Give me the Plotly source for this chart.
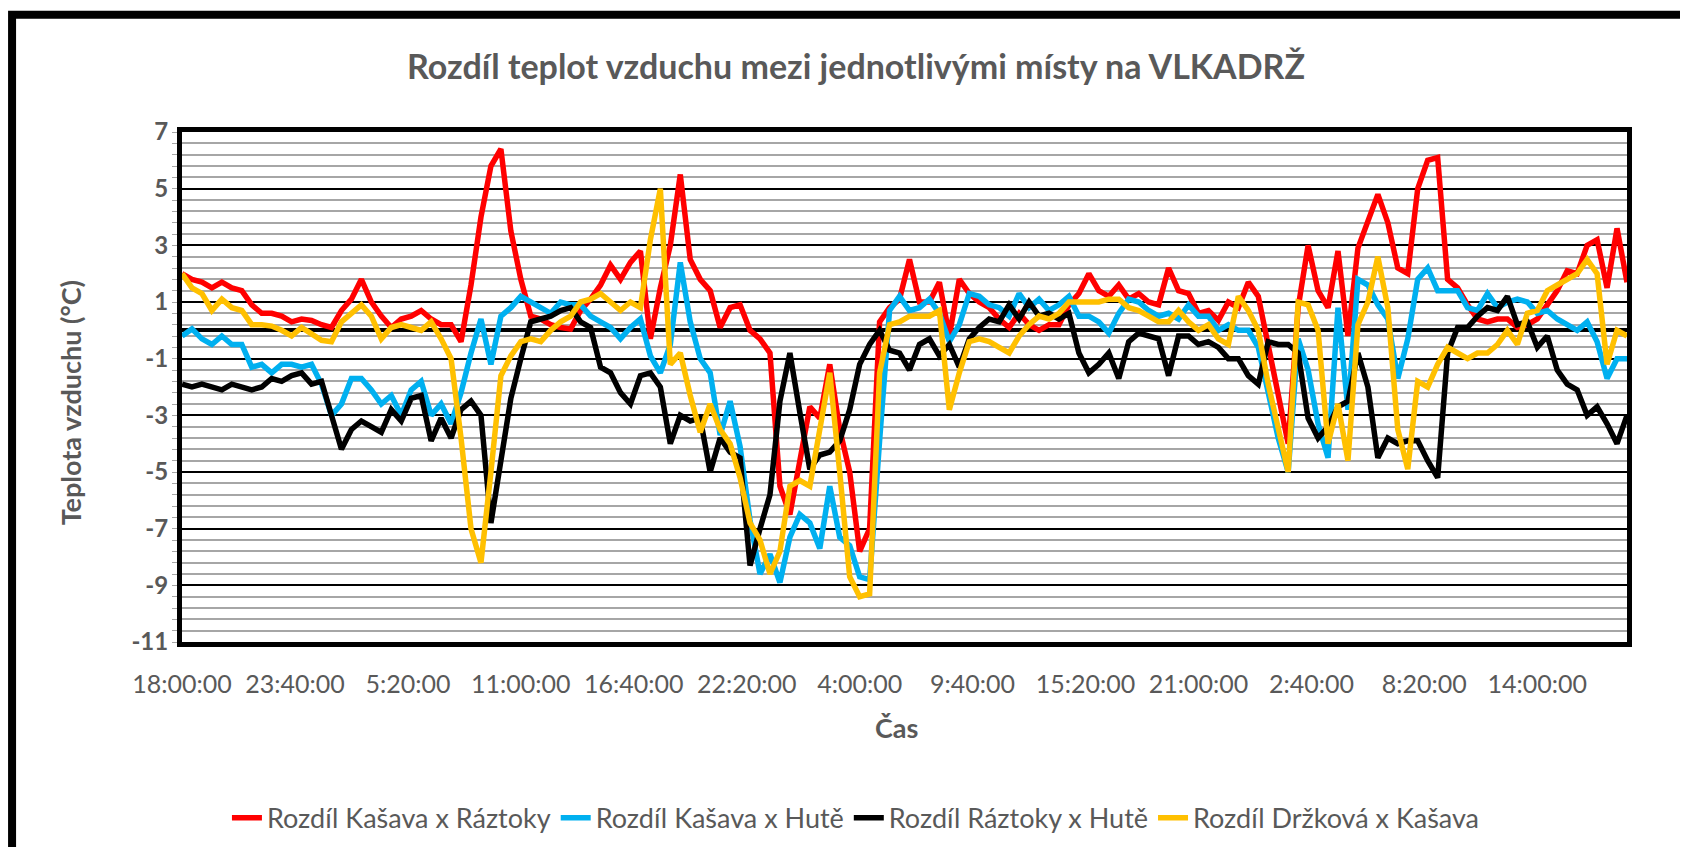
import pandas as pd
import plotly.graph_objects as go

# 30-minute samples starting at 18:00 on day one
start_time = "2021-06-01 18:00"
sample_step = "30min"

rozdil_kasava_raztoky = [
    2.0, 1.8, 1.7, 1.5, 1.7, 1.5, 1.4, 0.9, 0.6, 0.6,
    0.5, 0.3, 0.4, 0.35, 0.2, 0.1, 0.7, 1.1, 1.8, 1.0,
    0.5, 0.1, 0.4, 0.5, 0.7, 0.4, 0.2, 0.2, -0.4, 1.6,
    4.0, 5.8, 6.4, 3.5, 1.8, 0.5, 0.4, 0.2, 0.1, 0.05,
    0.7, 1.1, 1.6, 2.3, 1.8, 2.4, 2.8, -0.3, 1.5, 3.0,
    5.5, 2.5, 1.8, 1.4, 0.1, 0.8, 0.9, 0.0, -0.3, -0.8,
    -5.5, -6.5, -4.6, -2.7, -3.1, -1.2, -3.5, -5.0, -7.8, -7.0,
    0.3, 0.8, 1.1, 2.5, 1.0, 1.0, 1.7, -0.2, 1.8, 1.3,
    1.0, 0.8, 0.4, 0.1, 0.6, 0.2, 0.0, 0.2, 0.2, 0.9,
    1.3, 2.0, 1.4, 1.2, 1.6, 1.1, 1.3, 1.0, 0.9, 2.2,
    1.4, 1.3, 0.6, 0.7, 0.35, 1.0, 0.8, 1.7, 1.2, -0.6,
    -2.3, -4.0, 0.8, 3.0, 1.4, 0.8, 2.8, -0.2, 2.9, 3.8,
    4.8, 3.8, 2.2, 2.0, 5.0, 6.0, 6.1, 1.8, 1.5, 0.9,
    0.4, 0.3, 0.4, 0.4, 0.1, 0.2, 0.4, 0.9, 1.4, 2.1,
    2.0, 3.0, 3.2, 1.5, 3.6, 1.7,
]

rozdil_kasava_hute = [
    -0.2, 0.05, -0.3, -0.5, -0.2, -0.5, -0.5, -1.3, -1.2, -1.5,
    -1.2, -1.2, -1.3, -1.2, -1.9, -3.0, -2.6, -1.7, -1.7, -2.1,
    -2.6, -2.3, -3.0, -2.1, -1.8, -3.0, -2.6, -3.3, -2.2, -0.8,
    0.4, -1.2, 0.5, 0.8, 1.2, 1.0, 0.8, 0.6, 1.0, 0.9,
    0.9, 0.5, 0.3, 0.1, -0.3, 0.1, 0.4, -0.9, -1.5, -0.5,
    2.4, 0.3, -1.0, -1.5, -3.7, -2.5, -4.1, -6.7, -8.6, -7.9,
    -8.9, -7.3, -6.5, -6.8, -7.7, -5.5, -7.3, -7.6, -8.7, -8.8,
    -3.9, 0.7, 1.2, 0.7, 0.8, 1.1, 0.6, -0.4, 0.2, 1.3,
    1.2, 0.9, 0.8, 0.5, 1.3, 0.8, 1.1, 0.7, 0.9, 1.2,
    0.5, 0.5, 0.3, -0.1, 0.6, 1.1, 1.0, 0.7, 0.5, 0.6,
    0.4, 0.9, 0.5, 0.5, 0.0, 0.2, 0.0, 0.0, -0.6, -2.2,
    -3.8, -5.0, -0.3, -1.4, -3.3, -4.5, 0.8, -2.8, 1.8, 1.6,
    0.9, 0.4, -1.7, -0.3, 1.8, 2.2, 1.4, 1.4, 1.4, 0.8,
    0.7, 1.3, 0.8, 1.0, 1.1, 1.0, 0.6, 0.7, 0.4, 0.2,
    0.0, 0.3, -0.4, -1.7, -1.0, -1.0,
]

rozdil_raztoky_hute = [
    -1.9, -2.0, -1.9, -2.0, -2.1, -1.9, -2.0, -2.1, -2.0, -1.7,
    -1.8, -1.6, -1.5, -1.9, -1.8, -3.0, -4.2, -3.5, -3.2, -3.4,
    -3.6, -2.8, -3.2, -2.4, -2.3, -3.9, -3.1, -3.8, -2.8, -2.5,
    -3.0, -6.8, -4.5, -2.4, -1.0, 0.3, 0.4, 0.5, 0.7, 0.8,
    0.3, 0.1, -1.3, -1.5, -2.2, -2.6, -1.6, -1.5, -2.0, -4.0,
    -3.0, -3.2, -3.1, -5.0, -3.8, -4.3, -4.5, -8.3, -7.0, -5.8,
    -2.5, -0.8, -2.9, -4.9, -4.4, -4.3, -3.9, -2.8, -1.2, -0.5,
    0.0, -0.7, -0.8, -1.4, -0.5, -0.3, -0.9, -0.5, -1.3, -0.3,
    0.1, 0.4, 0.3, 0.9, 0.4, 1.0, 0.5, 0.6, 0.4, 0.6,
    -0.8, -1.5, -1.2, -0.8, -1.7, -0.4, -0.1, -0.2, -0.3, -1.6,
    -0.2, -0.2, -0.5, -0.4, -0.6, -1.0, -1.0, -1.6, -1.9, -0.4,
    -0.5, -0.5, -0.8, -3.1, -3.8, -3.4, -2.7, -2.5, -0.8, -2.0,
    -4.5, -3.8, -4.0, -3.9, -3.9, -4.6, -5.2, -0.8, 0.1, 0.1,
    0.5, 0.8, 0.7, 1.2, 0.2, 0.3, -0.6, -0.2, -1.4, -1.9,
    -2.1, -3.0, -2.7, -3.3, -4.0, -3.0,
]

rozdil_drzkova_kasava = [
    2.0, 1.5, 1.3, 0.7, 1.1, 0.8, 0.7, 0.2, 0.2, 0.15,
    0.0, -0.2, 0.1, -0.1, -0.35, -0.4, 0.3, 0.6, 0.9, 0.5,
    -0.3, 0.1, 0.2, 0.1, 0.0, 0.3, -0.3, -1.0, -3.8, -7.0,
    -8.2, -5.0, -1.6, -0.9, -0.4, -0.3, -0.4, 0.0, 0.3, 0.5,
    1.0, 1.1, 1.3, 1.0, 0.7, 1.0, 0.8, 3.2, 5.0, -1.2,
    -0.8, -2.3, -3.6, -2.6, -3.5, -4.0, -5.2, -6.8, -7.4, -8.6,
    -7.8, -5.5, -5.3, -5.5, -3.5, -1.5, -5.0, -8.7, -9.4, -9.3,
    -1.5, 0.2, 0.3, 0.5, 0.5, 0.5, 0.7, -2.8, -1.5, -0.4,
    -0.3, -0.4, -0.6, -0.8, -0.2, 0.2, 0.5, 0.4, 0.6, 1.0,
    1.0, 1.0, 1.0, 1.1, 1.1, 0.8, 0.7, 0.5, 0.3, 0.3,
    0.7, 0.3, 0.0, 0.2, -0.3, -0.5, 1.2, 0.7, 0.0, -1.9,
    -3.4, -5.0, 1.0, 0.9, 0.0, -4.0, -2.6, -4.6, 0.2, 1.0,
    2.6, 0.8, -3.5, -4.9, -1.8, -2.0, -1.2, -0.6, -0.8, -1.0,
    -0.8, -0.8, -0.5, 0.0, -0.5, 0.6, 0.7, 1.4, 1.6, 1.8,
    2.0, 2.5, 2.0, -1.2, 0.0, -0.2,
]

series = [
    ("Rozdíl Kašava x Ráztoky", rozdil_kasava_raztoky, "#FF0000"),
    ("Rozdíl Kašava x Hutě", rozdil_kasava_hute, "#00B0F0"),
    ("Rozdíl Ráztoky x Hutě", rozdil_raztoky_hute, "#000000"),
    ("Rozdíl Držková x Kašava", rozdil_drzkova_kasava, "#FFC000"),
]

y_ticks = [-11, -9, -7, -5, -3, -1, 1, 3, 5, 7]

times = pd.date_range(start_time, periods=len(rozdil_kasava_raztoky), freq=sample_step)

# Excel shows a label every 340 minutes
tick_times = pd.date_range(start_time, periods=13, freq="340min")
tick_labels = [f"{t.hour}:{t.minute:02d}:00" for t in tick_times]

text_grey = "#595959"
font_name = "Lato"

fig = go.Figure()
for name, values, color in series:
    fig.add_trace(
        go.Scatter(
            x=times,
            y=values,
            name=name,
            mode="lines",
            line=dict(color=color, width=5.5),
        )
    )

fig.update_xaxes(
    range=[times[0], times[-1]],
    tickmode="array",
    tickvals=tick_times,
    ticktext=tick_labels,
    showgrid=False,
    showline=True,
    linecolor="black",
    linewidth=5,
    mirror=True,
    ticks="",
    ticklabelstandoff=16,
    tickfont=dict(family=font_name, size=25, color=text_grey),
)

fig.update_yaxes(
    range=[-11, 7],
    tickmode="array",
    tickvals=y_ticks,
    ticktext=[str(v) for v in y_ticks],  # plain hyphen like Excel
    showgrid=True,
    gridcolor="black",
    gridwidth=2,
    minor=dict(
        tickmode="linear",
        tick0=-11,
        dtick=0.4,
        showgrid=True,
        gridcolor="#a6a6a6",
        gridwidth=2,
        ticks="outside",
        ticklen=5,
        tickcolor="#a6a6a6",
    ),
    zeroline=True,
    zerolinecolor="black",
    zerolinewidth=4,
    showline=True,
    linecolor="black",
    linewidth=5,
    mirror=True,
    ticks="",
    ticklabelstandoff=4,
    tickfont=dict(family=font_name, size=24, color=text_grey, weight="bold"),
)

# the page adds an 8px body margin, so the figure is 8px smaller on the left/top side
fig.update_layout(
    width=1680,
    height=847,
    plot_bgcolor="white",
    paper_bgcolor="white",
    margin=dict(l=174, r=61, t=124, b=205),
    title=dict(
        text="Rozdíl teplot vzduchu mezi jednotlivými místy na VLKADRŽ",
        x=0.5048,
        xanchor="center",
        y=0.9297,
        yanchor="middle",
        font=dict(family=font_name, size=34, color=text_grey, weight="bold"),
    ),
    legend=dict(
        orientation="h",
        x=0.4664,
        xanchor="center",
        y=-0.3456,
        yanchor="middle",
        font=dict(family=font_name, size=27, color=text_grey),
    ),
    annotations=[
        dict(
            text="Teplota vzduchu (°C)",
            xref="paper",
            yref="paper",
            x=-0.0775,
            y=0.468,
            xanchor="center",
            yanchor="middle",
            textangle=-90,
            showarrow=False,
            font=dict(family=font_name, size=27, color=text_grey, weight="bold"),
        ),
        dict(
            text="Čas",
            xref="paper",
            yref="paper",
            x=0.4948,
            y=-0.168,
            xanchor="center",
            yanchor="middle",
            showarrow=False,
            font=dict(family=font_name, size=27, color=text_grey, weight="bold"),
        ),
    ],
    # thick chart frame, only its left and top edges are inside the picture
    shapes=[
        dict(
            type="rect",
            xref="paper",
            yref="paper",
            x0=-0.1176,
            x1=2,
            y0=-2,
            y1=1.2297,
            line=dict(color="black", width=8),
        )
    ],
)

fig.write_html("out.html")
